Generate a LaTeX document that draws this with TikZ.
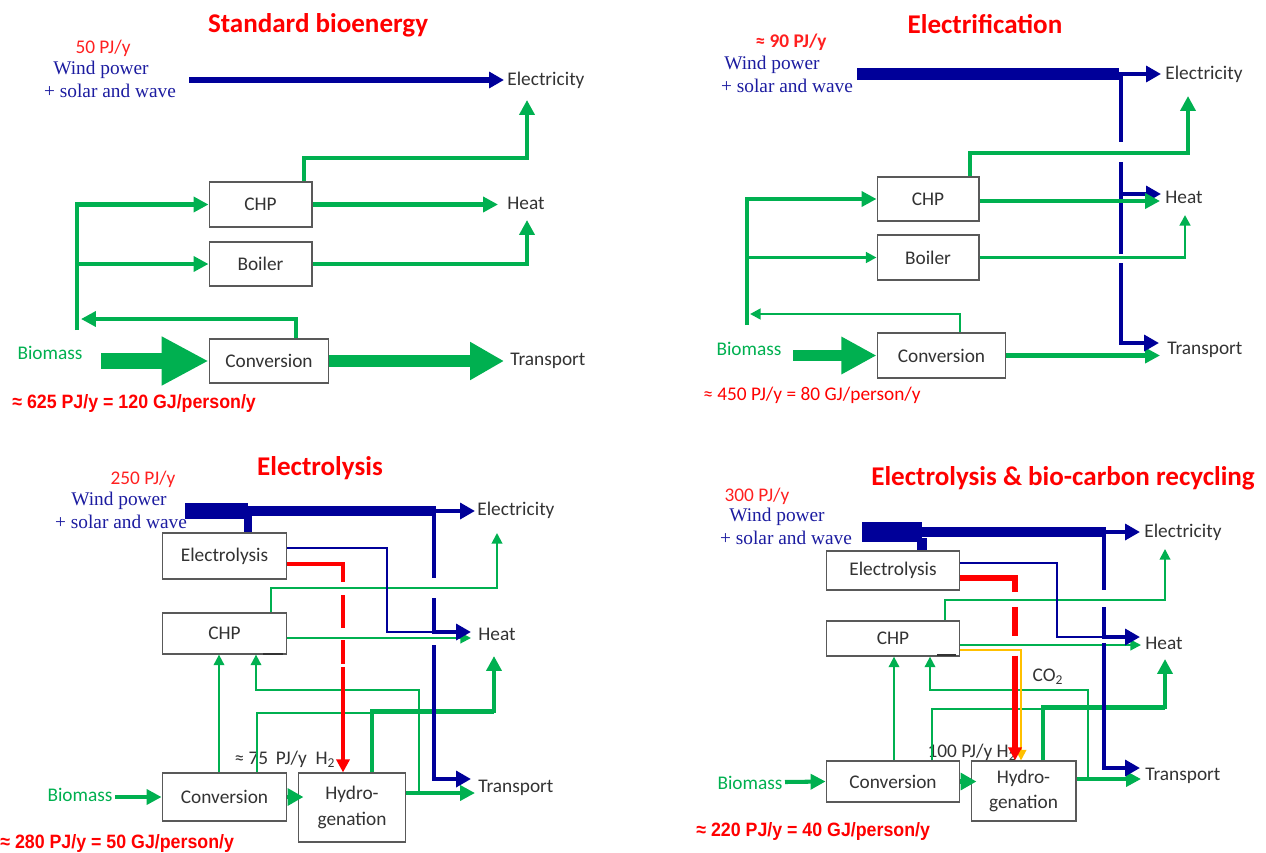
\documentclass[tikz,border=0pt]{standalone}
\usepackage{fontspec}
\setmainfont{Carlito}
\newfontfamily\timesf{Liberation Serif}
\newfontfamily\narrowf[FakeStretch=0.92]{Liberation Sans}
\usetikzlibrary{arrows.meta}
\definecolor{ogreen}{HTML}{00B050}
\definecolor{navy}{HTML}{000099}
\definecolor{windblue}{HTML}{1C1CA0}
\definecolor{pjred}{HTML}{FF2020}
\definecolor{co2yel}{HTML}{FFC000}
\tikzset{
  lbl/.style={font=\fontsize{11}{13}\selectfont, text=black!80, inner sep=0pt},
  box/.style 2 args={draw=black!65, line width=0.8pt, fill=white, font=\fontsize{11}{14.5}\selectfont,
    text=black!80, inner sep=0pt, align=center, minimum width=#1*0.5669pt, minimum height=#2*0.5669pt},
  ttl/.style={font=\fontsize{15.4}{18}\selectfont\bfseries, text=red, inner sep=0pt},
  wind/.style={font=\timesf\fontsize{11}{12}\selectfont, text=windblue, inner sep=0pt},
  pjy/.style={font=\fontsize{11}{13}\selectfont, text=pjred, inner sep=0pt},
  total/.style={font=\narrowf\bfseries\fontsize{11}{12}\selectfont, text=red, inner sep=0pt, anchor=west},
  bio/.style={font=\fontsize{11}{13}\selectfont, text=ogreen, inner sep=0pt},
  gthick/.style={draw=ogreen, line width=2.3pt},
  gthin/.style={draw=ogreen, line width=1.1pt},
  gmid/.style={draw=ogreen, line width=1.5pt},
  elthick/.style={draw=navy, line width=2.8pt},
  elthin/.style={draw=navy, line width=1.1pt},
  gtip/.tip={Triangle[length=8.5pt,width=8.5pt]},
  stip/.tip={Triangle[length=6pt,width=6pt]},
  btip/.tip={Triangle[length=8.5pt,width=9pt]},
  rtip/.tip={Triangle[length=7.5pt,width=7.5pt]},
}
\begin{document}
\begin{tikzpicture}[x=0.02cm,y=-0.02cm]
    \useasboundingbox (0,0) rectangle (1266,852);
    % standard bioenergy
    \node[ttl] (title1) at (318,25) {Standard bioenergy};
    \node[pjy] (pj1) at (103,48) {50 PJ/y};
    \node[wind] (wind1) at (101,70) {Wind power};
    \node[wind] (solar1) at (110,91) {+ solar and wave};
    \node[box={103}{45}] (chp1) at (260.5,204.5) {CHP};
    \node[box={103}{44}] (boiler1) at (260.5,264) {Boiler};
    \node[box={120}{44}] (conv1) at (269,361) {Conversion};
    \node[lbl,anchor=west] (elec1) at (507,80) {Electricity};
    \node[lbl,anchor=west] (heat1) at (507,203) {Heat};
    \node[lbl,anchor=west] (trans1) at (510,361) {Transport};
    \node[bio] (bio1) at (50,353) {Biomass};
    \node[total] (sum1) at (12,403) {≈ 625 PJ/y = 120 GJ/person/y};
    \draw[navy, line width=3.2pt, -btip] (189,80) -- (504,80);
    \draw[gthick, -gtip] (77,330) |- (chp1.west);
    \draw[gthick, -gtip] (77,264) -- (boiler1.west);
    \draw[gthick, -gtip] (conv1.north -| 296,0) |- (81,319);
    \draw[gthick, -gtip] (chp1.north -| 304,0) |- (527,158) -- (527,100);
    \draw[gthick, -gtip] (chp1.east) -- (498,204.5);
    \draw[gthick, -gtip] (boiler1.east) -| (527,220);
    \draw[ogreen, line width=9pt, -{Triangle[length=26.7pt,width=26pt]}] (101,361) -- (conv1.west);
    \draw[ogreen, line width=6.8pt, -{Triangle[length=19.3pt,width=20.4pt]}] (conv1.east) -- (504,361);
    % electrification
    \node[ttl] (title2) at (985,24) {Electrification};
    \node[pjy, font=\fontsize{11}{13}\selectfont\bfseries] (pj2) at (791,42) {≈ 90 PJ/y};
    \node[wind] (wind2) at (772,65) {Wind power};
    \node[wind] (solar2) at (787,86) {+ solar and wave};
    \node[box={102}{44}] (chp2) at (928,199) {CHP};
    \node[box={102}{45}] (boiler2) at (928,257.5) {Boiler};
    \node[box={129}{45}] (conv2) at (941.5,355.5) {Conversion};
    \node[lbl,anchor=west] (elec2) at (1165,74) {Electricity};
    \node[lbl,anchor=west] (heat2) at (1165,197) {Heat};
    \node[lbl,anchor=west] (trans2) at (1167,350) {Transport};
    \node[bio] (bio2) at (749,349) {Biomass};
    \node[pjy, text=red] (sum2) at (812,395) {≈ 450 PJ/y = 80 GJ/person/y};
    \draw[gthick, -gtip] (747,325) |- (chp2.west);
    \draw[gmid, -stip] (747,257.5) -- (boiler2.west);
    \draw[gmid, -stip] (conv2.north -| 960,0) |- (750,314);
    \draw[gthick, -gtip] (chp2.north -| 970,0) |- (1188,153) -- (1188,96);
    \draw[gmid, -stip] (boiler2.east) -| (1185,215);
    \draw[ogreen, line width=6.8pt, -{Triangle[length=20pt,width=20pt]}] (793,355.5) -- (conv2.west);
    \draw[gthick, -gtip] (conv2.east) -- (1160,355.5);
    \draw[navy, line width=6.8pt] (857,74) -- (1119,74);
    \draw[elthick, -btip] (1117,74) -- (1161,74);
    \draw[elthick] (1121,74) -- (1121,142);
    \draw[elthick, -btip] (1121,162) |- (1161,194);
    \draw[elthick] (1121,194) -- (1121,254);
    \draw[elthick, -btip] (1121,263) |- (1159,343);
    \draw[gthick, -gtip] (chp2.east |- 0,201) -- (1160,201);
    % electrolysis
    \node[ttl] (title3) at (320,468) {Electrolysis};
    \node[pjy] (pj3) at (143,479) {250 PJ/y};
    \node[wind] (wind3) at (119,501) {Wind power};
    \node[wind] (solar3) at (121,522) {+ solar and wave};
    \node[box={125}{46}] (elz3) at (224.5,556) {Electrolysis};
    \node[box={125}{41}] (chp3) at (224.5,633.5) {CHP};
    \node[box={125}{48}] (conv3) at (224.5,797) {Conversion};
    \node[box={108}{69}] (hyd3) at (352,807.5) {Hydro-\\genation};
    \node[lbl,anchor=west] (elec3) at (477,510) {Electricity};
    \node[lbl,anchor=west] (heat3) at (478,634) {Heat};
    \node[lbl,anchor=west] (trans3) at (478,788) {Transport};
    \node[bio] (bio3) at (80,795) {Biomass};
    \node[lbl] (h2flow3) at (285,759) {≈ 75\,\ PJ/y\ \ H\textsubscript{2}};
    \node[total] (sum3) at (0,843) {≈ 280 PJ/y = 50 GJ/person/y};
    \draw[black!80, line width=1.2pt] (263,654) -- (283,654);
    \draw[gthin, -stip] (chp3.north -| 271,0) |- (497,588) -- (497,533);
    \draw[gthin, -stip] (chp3.east |- 0,638) -- (471,638);
    \draw[gthin, -stip] (conv3.north -| 219,0) -- (chp3.south -| 219,0);
    \draw[gthin, -stip] (419,791) |- (256,690) -- (chp3.south -| 256,0);
    \draw[gthin] (conv3.north -| 257,0) |- (494,713);
    \draw[gthick, -gtip] (hyd3.north -| 372,0) |- (494,711) -- (494,656);
    \draw[gthick, -gtip] (hyd3.east |- 0,793) -- (475,793);
    \draw[gthick, -gtip] (115,797) -- (conv3.west);
    \draw[gthick, -{Triangle[length=9pt,width=9.5pt]}] (conv3.east) -- ++(16,0);
    \draw[red, line width=2.8pt, -rtip,
      dash pattern=on 42pt off 7.4pt on 18.7pt off 6.8pt on 13.6pt off 1.7pt on 200pt]
      (elz3.east |- 0,564) -| (hyd3.north -| 343,0);
    \draw[elthin] (elz3.east |- 0,548) -| (387,632) -- (434,632);
    \draw[navy, line width=9pt] (185,511) -- (248,511);
    \draw[navy, line width=6.2pt] (248,511) -- (436,511);
    \draw[elthick, -btip] (434,511) -- (475,511);
    \draw[navy, line width=4pt] (248,515) -- (elz3.north -| 248,0);
    \draw[elthick] (434,511) -- (434,578);
    \draw[elthick, -btip] (434,598) |- (471,632);
    \draw[elthick, -btip] (434,645) |- (471,779);
    % electrolysis and bio-carbon recycling
    \node[ttl] (title4) at (1063,478) {Electrolysis \& bio-carbon recycling};
    \node[pjy] (pj4) at (757,496) {300 PJ/y};
    \node[wind] (wind4) at (777,517) {Wind power};
    \node[wind] (solar4) at (786,538) {+ solar and wave};
    \node[box={134}{39}] (elz4) at (893,570.5) {Electrolysis};
    \node[box={134}{35}] (chp4) at (893,638.5) {CHP};
    \node[box={134}{41}] (conv4) at (893,781.5) {Conversion};
    \node[box={105}{60}, font=\fontsize{11}{14}\selectfont] (hyd4) at (1023.5,791) {Hydro-\\genation};
    \node[lbl,anchor=west] (elec4) at (1144,532) {Electricity};
    \node[lbl,anchor=west] (heat4) at (1145,643) {Heat};
    \node[lbl,anchor=west] (trans4) at (1145,776) {Transport};
    \node[bio] (bio4) at (750,783) {Biomass};
    \node[lbl] (co2lbl) at (1048,677) {CO\textsubscript{2}};
    \node[lbl] (h2flow4) at (972,752) {100 PJ/y H\textsubscript{2}};
    \node[total] (sum4) at (696,831) {≈ 220 PJ/y = 40 GJ/person/y};
    \draw[black!80, line width=1.2pt] (937,655) -- (956,655);
    \draw[gthin, -stip] (chp4.north -| 945,0) |- (1165,600) -- (1165,549);
    \draw[gthin, -stip] (chp4.east |- 0,645) -- (1141,645);
    \draw[gthin, -stip] (conv4.north -| 894,0) -- (chp4.south -| 894,0);
    \draw[gthin, -stip] (1088,779) |- (930,690) -- (chp4.south -| 930,0);
    \draw[gthin] (conv4.north -| 932,0) |- (1165,709);
    \draw[gthick, -gtip] (hyd4.north -| 1043,0) |- (1165,707) -- (1165,659);
    \draw[gthick, -gtip] (hyd4.east |- 0,779) -- (1141,779);
    \draw[gthick, -gtip] (785,782) -- (conv4.west);
    \draw[gthick, -{Triangle[length=9pt,width=9.5pt]}] (conv4.east) -- ++(16,0);
    \draw[co2yel, line width=1.1pt, -stip] (chp4.east |- 0,650) -| (hyd4.north -| 1021,0);
    \draw[red, line width=3.4pt, -rtip,
      dash pattern=on 39pt off 8.5pt on 16.4pt off 11.3pt on 200pt]
      (elz4.east |- 0,578) -| (hyd4.north -| 1015,0);
    \draw[elthin] (elz4.east |- 0,563) -| (1057,637) -- (1104,637);
    \draw[navy, line width=11.3pt] (862,532) -- (922,532);
    \draw[navy, line width=6.2pt] (922,532) -- (1106,532);
    \draw[elthick, -btip] (1103,532) -- (1140,532);
    \draw[navy, line width=5.7pt] (922,538) -- (elz4.north -| 922,0);
    \draw[elthick] (1104,532) -- (1104,590);
    \draw[elthick, -btip] (1104,607) |- (1140,637);
    \draw[elthick, -btip] (1104,643) |- (1140,768);
\end{tikzpicture}
\end{document}
